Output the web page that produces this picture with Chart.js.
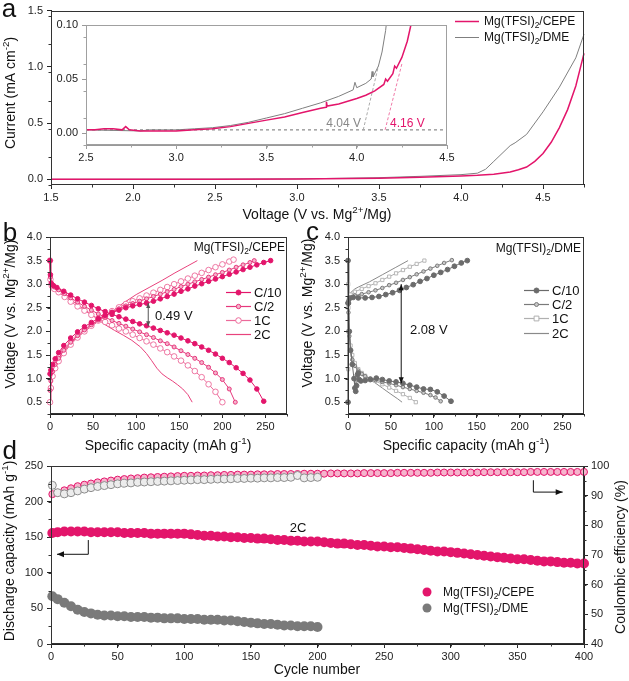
<!DOCTYPE html>
<html><head><meta charset="utf-8">
<script src="https://cdn.jsdelivr.net/npm/chart.js@4.4.1/dist/chart.umd.min.js"></script>
<style>
html,body{margin:0;padding:0;background:#fff;}
#wrap{position:relative;width:629px;height:681px;overflow:hidden;background:#fff;}
canvas{position:absolute;left:0;top:0;}
</style></head><body><div id="wrap">
<canvas id="ca" width="629" height="681"></canvas>
<canvas id="ci" width="629" height="681"></canvas>
<canvas id="cb" width="629" height="681"></canvas>
<canvas id="cc" width="629" height="681"></canvas>
<canvas id="cd" width="629" height="681"></canvas>
</div>
<script>
// ---------------- DATA ----------------
// Panel a: LSV curves [voltage, current]
const aCEPE = [[1.5,0.0],[2.0,0.001],[2.5,0.002],[3.0,0.003],[3.5,0.011],[3.75,0.019],[4.0,0.03],[4.1,0.036],[4.2,0.046],[4.3,0.065],[4.35,0.085],[4.4,0.11],[4.45,0.16],[4.5,0.23],[4.55,0.33],[4.6,0.46],[4.65,0.62],[4.7,0.83],[4.75,1.12]];
const aDME  = [[1.5,0.0],[2.0,0.001],[2.5,0.002],[3.0,0.004],[3.5,0.015],[3.75,0.027],[4.0,0.042],[4.1,0.055],[4.15,0.09],[4.2,0.16],[4.25,0.23],[4.3,0.3],[4.33,0.325],[4.4,0.4],[4.5,0.6],[4.6,0.82],[4.7,1.08],[4.75,1.29]];
// Panel a inset
const insCEPE = [[2.5,0.003],[2.55,0.003],[2.6,0.004],[2.65,0.004],[2.7,0.003],[2.72,0.006],[2.74,0.003],[2.8,0.002],[2.9,0.002],[3.0,0.002],[3.1,0.003],[3.2,0.004],[3.3,0.006],[3.4,0.009],[3.5,0.012],[3.6,0.015],[3.7,0.019],[3.8,0.023],[3.83,0.024],[3.832,0.029],[3.836,0.025],[3.9,0.027],[4.0,0.032],[4.05,0.035],[4.1,0.039],[4.15,0.045],[4.16,0.05],[4.17,0.048],[4.2,0.055],[4.21,0.062],[4.22,0.06],[4.25,0.07],[4.28,0.085],[4.3,0.1],[4.32,0.12]];
const insDME = [[2.5,0.003],[2.8,0.002],[2.85,0.003],[3.0,0.003],[3.1,0.004],[3.2,0.005],[3.3,0.007],[3.4,0.01],[3.5,0.014],[3.6,0.018],[3.7,0.023],[3.8,0.028],[3.9,0.034],[3.98,0.04],[3.99,0.047],[4.0,0.042],[4.05,0.046],[4.08,0.05],[4.085,0.057],[4.09,0.052],[4.12,0.062],[4.14,0.075],[4.16,0.095],[4.17,0.11]];
const insBase = [[2.5,0.003],[4.5,0.003]];
const insOnsetDME = [[4.036,0.003],[4.12,0.062]];
const insOnsetCEPE = [[4.157,0.003],[4.25,0.064]];
// Panel b: CEPE charge/discharge [capacity, voltage]
const bC10dis = [[0,3.5],[0.5,3.2],[1.5,3.02],[4,2.97],[8,2.93],[16,2.85],[24,2.77],[32,2.69],[40,2.62],[48,2.55],[56,2.48],[64,2.42],[72,2.36],[80,2.31],[88,2.26],[96,2.21],[104,2.16],[112,2.12],[120,2.07],[128,2.02],[136,1.97],[144,1.92],[152,1.86],[160,1.8],[168,1.74],[176,1.67],[184,1.6],[192,1.52],[200,1.43],[208,1.34],[216,1.23],[224,1.11],[232,0.97],[240,0.78],[248,0.52]];
const bC10cha = [[0,1.1],[1,1.18],[3,1.3],[6,1.42],[10,1.55],[16,1.7],[24,1.86],[32,1.99],[40,2.1],[48,2.19],[56,2.27],[64,2.34],[72,2.4],[80,2.45],[88,2.5],[96,2.54],[104,2.57],[112,2.6],[120,2.64],[128,2.69],[136,2.74],[144,2.79],[152,2.85],[160,2.9],[168,2.96],[176,3.01],[184,3.06],[192,3.11],[200,3.16],[208,3.21],[216,3.26],[224,3.31],[232,3.36],[240,3.41],[248,3.46],[256,3.5]];
const bC2dis = [[0,3.5],[0.5,3.15],[2,3.0],[5,2.94],[10,2.88],[17,2.8],[24,2.71],[32,2.62],[40,2.53],[48,2.45],[56,2.37],[64,2.3],[72,2.23],[80,2.17],[88,2.11],[96,2.05],[104,1.99],[112,1.93],[120,1.87],[128,1.8],[136,1.74],[144,1.67],[152,1.59],[160,1.51],[168,1.43],[176,1.34],[184,1.24],[192,1.12],[200,0.98],[208,0.78],[215,0.5]];
const bC2cha = [[0,0.75],[1,0.95],[3,1.15],[6,1.3],[10,1.43],[16,1.6],[24,1.77],[32,1.91],[40,2.03],[48,2.14],[56,2.24],[64,2.33],[72,2.41],[80,2.48],[88,2.54],[96,2.59],[104,2.64],[112,2.69],[120,2.74],[128,2.79],[136,2.84],[144,2.89],[152,2.95],[160,3.0],[168,3.05],[176,3.1],[184,3.15],[192,3.2],[200,3.25],[208,3.3],[216,3.36],[224,3.41],[232,3.46],[237,3.5]];
const b1Cdis = [[0,3.5],[0.5,3.1],[2,2.97],[5,2.9],[10,2.83],[17,2.73],[24,2.63],[32,2.53],[40,2.44],[48,2.35],[56,2.27],[64,2.2],[72,2.13],[80,2.06],[88,2.0],[96,1.93],[104,1.86],[112,1.79],[120,1.72],[128,1.64],[136,1.56],[144,1.47],[152,1.38],[160,1.28],[168,1.16],[176,1.03],[184,0.88],[192,0.72],[200,0.5]];
const b1Ccha = [[0,0.5],[1,0.8],[3,1.05],[6,1.22],[10,1.37],[16,1.54],[24,1.72],[32,1.87],[40,2.0],[48,2.12],[56,2.23],[64,2.33],[72,2.43],[80,2.51],[88,2.58],[96,2.64],[104,2.7],[112,2.76],[120,2.82],[128,2.88],[136,2.94],[144,3.0],[152,3.06],[160,3.12],[168,3.18],[176,3.24],[184,3.3],[192,3.36],[200,3.42],[208,3.48],[213,3.52]];
const b2Cdis = [[0,3.5],[1,3.05],[3,2.95],[8,2.88],[15,2.79],[25,2.66],[35,2.53],[45,2.4],[55,2.26],[65,2.13],[75,2.02],[85,1.92],[95,1.81],[105,1.67],[112,1.53],[118,1.38],[124,1.22],[130,1.1],[136,1.02],[142,0.95],[148,0.87],[154,0.78],[160,0.66],[165,0.5]];
const b2Ccha = [[0,0.55],[1,0.85],[3,1.1],[6,1.28],[10,1.42],[18,1.62],[28,1.82],[40,2.0],[55,2.2],[70,2.4],[85,2.6],[100,2.78],[115,2.93],[130,3.08],[145,3.24],[160,3.39],[171,3.5]];
// Panel c: DME charge/discharge
const cC10cha = [[0,0.5],[0,2.6],[2,2.7],[6,2.72],[12,2.71],[20,2.71],[28,2.72],[36,2.74],[44,2.78],[52,2.82],[60,2.87],[68,2.93],[76,2.99],[84,3.06],[92,3.12],[100,3.19],[108,3.25],[116,3.31],[124,3.38],[132,3.45],[139,3.5]];
const cC10dis = [[0,3.5],[0.5,2.6],[1.5,2.0],[3,1.6],[5,1.3],[7,1.0],[8,0.8],[9,0.73],[10,0.85],[11,1.08],[12,1.12],[13,0.98],[15,0.95],[20,0.96],[26,0.98],[33,1.01],[40,0.98],[48,0.95],[56,0.93],[64,0.9],[72,0.86],[80,0.82],[88,0.78],[96,0.77],[104,0.72],[112,0.63],[120,0.52]];
const cC2cha = [[0,0.5],[0.3,2.65],[3,2.72],[8,2.76],[16,2.79],[24,2.83],[32,2.87],[40,2.92],[48,2.98],[56,3.03],[64,3.09],[72,3.15],[80,3.21],[88,3.27],[96,3.33],[104,3.39],[112,3.45],[121,3.51]];
const cC2dis = [[0,3.5],[0.5,2.4],[1.5,1.9],[3,1.6],[5,1.4],[8,1.27],[12,1.17],[16,1.1],[20,1.05],[26,1.0],[32,0.97],[40,0.93],[48,0.9],[56,0.86],[64,0.82],[72,0.78],[80,0.74],[88,0.7],[96,0.65],[102,0.6],[108,0.52]];
const c1Ccha = [[0,0.5],[0.2,1.2],[0.4,2.0],[0.6,2.6],[3,2.78],[8,2.84],[16,2.9],[24,2.96],[32,3.02],[40,3.09],[48,3.16],[56,3.23],[64,3.3],[72,3.37],[80,3.43],[89,3.5]];
const c1Cdis = [[0,3.5],[0.2,3.0],[0.5,2.5],[1.5,2.0],[3,1.7],[5,1.5],[8,1.33],[12,1.2],[16,1.12],[20,1.06],[26,1.0],[32,0.95],[40,0.88],[48,0.81],[56,0.74],[64,0.67],[72,0.59],[79,0.5]];
const c2Ccha = [[0,0.5],[0.5,2.7],[3,2.82],[8,2.9],[12,2.94],[25,3.05],[40,3.2],[55,3.35],[70,3.5]];
const c2Cdis = [[0,3.5],[1,2.2],[3,1.7],[6,1.4],[10,1.2],[15,1.08],[20,1.02],[30,0.93],[40,0.8],[50,0.67],[58,0.57],[63,0.5]];
// Panel d: cycling
const cycles = [1,5,10,15,20,25,30,35,40,45,50,55,60,65,70,75,80,85,90,95,100,105,110,115,120,125,130,135,140,145,150,155,160,165,170,175,180,185,190,195,200,205,210,215,220,225,230,235,240,245,250,255,260,265,270,275,280,285,290,295,300,305,310,315,320,325,330,335,340,345,350,355,360,365,370,375,380,385,390,395,400];
const dCepeCap = [156,157,158,158,158,158,157,157,157,157, 157,156,156,156,156,155,155,155,155,155, 155,154,153,152,152,151,151,150,150,149, 149,148,148,147,146,146,145,145,144,144, 144,143,142,141,141,140,139,139,138,137, 137,136,136,135,134,133,132,131,130,130, 129,128,127,126,125,124,123,122,121,120, 119,119,118,117,116,116,115,114,114,113, 113];
const dCepeCE = [90.5,91.0,91.8,92.5,93.2,93.7,94.1,94.5,94.8,95.1, 95.4,95.6,95.8,95.9,96.1,96.2,96.3,96.4,96.5,96.6, 96.7,96.7,96.8,96.8,96.9,96.9,97.0,97.0,97.1,97.1, 97.1,97.2,97.2,97.2,97.3,97.3,97.3,97.3,97.4,97.4, 97.4,97.4,97.5,97.5,97.5,97.5,97.5,97.6,97.6,97.6, 97.6,97.6,97.7,97.7,97.7,97.7,97.7,97.7,97.8,97.8, 97.8,97.8,97.8,97.8,97.8,97.9,97.9,97.9,97.9,97.9, 97.9,97.9,98.0,98.0,98.0,98.0,98.0,98.0,98.0,98.0, 98.0];
const dDmeCap = [67,63,58,53,48,45,43,41,40,40, 39,39,38,38,38,37,37,36,36,36, 35,35,35,34,34,34,33,33,32,31, 30,29,28,28,27,26,26,25,25,25, 24];
const dDmeCE = [93.5,91.0,90.6,91.0,91.6,92.2,92.7,93.1,93.4,93.7, 94.0,94.2,94.3,94.5,94.6,94.7,94.8,94.9,95.0,95.1, 95.2,95.3,95.4,95.4,95.5,95.6,95.6,95.7,95.8,95.8, 95.9,95.9,96.0,96.0,96.1,96.1,96.2,96.8,96.0,96.1, 96.2];
// Tick labels
const aXTicks = [1.5,2.0,2.5,3.0,3.5,4.0,4.5];
const aYTicks = [0.0,0.5,1.0,1.5];
const insXTicks = [2.5,3.0,3.5,4.0,4.5];
const insYTicks = [0.00,0.05,0.10];
const bcXTicks = [0,50,100,150,200,250];
const bcYTicks = [0.5,1.0,1.5,2.0,2.5,3.0,3.5,4.0];
const dXTicks = [0,50,100,150,200,250,300,350,400];
const dYTicks = [0,50,100,150,200,250];
const dY2Ticks = [40,50,60,70,80,90,100];
const rateLabels = ['C/10','C/2','1C','2C'];
const seriesNames = ['Mg(TFSI)_2/CEPE','Mg(TFSI)_2/DME'];

// ---------------- HELPERS ----------------
const FONT = '"Liberation Sans", Arial, Helvetica, sans-serif';
const W = 629, H = 681, AXW = 42, AXH = 22;
const PINK = '#e3156b', GRAY = '#7f7f7f';
const P = arr => arr.map(p => ({x:p[0], y:p[1]}));
const Z = (xs, ys) => ys.map((y,i) => ({x:xs[i], y}));

function parseRich(str){
  const segs=[]; let i=0, buf='';
  while(i<str.length){
    const c=str[i];
    if(c==='^'||c==='_'){
      if(buf){segs.push({t:buf,m:0});buf='';}
      const mode = c==='^'?1:-1; i++;
      let t='';
      if(str[i]==='{'){ i++; while(i<str.length && str[i]!=='}'){t+=str[i];i++;} i++; }
      else { t=str[i]; i++; }
      segs.push({t,m:mode});
    } else { buf+=c; i++; }
  }
  if(buf) segs.push({t:buf,m:0});
  return segs;
}
function drawRich(ctx, str, x, y, o){
  o=o||{};
  const size=o.size||12, color=o.color||'#111', align=o.align||'left', rot=o.rot||0;
  const segs=parseRich(str);
  ctx.save();
  ctx.translate(x,y); if(rot) ctx.rotate(rot);
  ctx.fillStyle=color; ctx.textBaseline='alphabetic';
  let w=0;
  segs.forEach(s=>{ s.fs = s.m? size*0.7: size; ctx.font=`${s.fs}px ${FONT}`; s.w=ctx.measureText(s.t).width; w+=s.w;});
  let cx = align==='center'? -w/2 : align==='right'? -w : 0;
  const base = size*0.36;
  segs.forEach(s=>{ ctx.font=`${s.fs}px ${FONT}`; const dy = s.m===1? -size*0.4 : s.m===-1? size*0.22 : 0; ctx.fillText(s.t, cx, base+dy); cx+=s.w;});
  ctx.restore();
}
function marker(ctx, x, y, pt){
  ctx.save(); ctx.lineWidth=pt.bw||1; ctx.beginPath();
  if(pt.style==='rect') ctx.rect(x-pt.r,y-pt.r,2*pt.r,2*pt.r); else ctx.arc(x,y,pt.r,0,Math.PI*2);
  if(pt.fill){ctx.fillStyle=pt.fill; ctx.fill();}
  if(pt.stroke){ctx.strokeStyle=pt.stroke; ctx.stroke();}
  ctx.restore();
}
function head(ctx, x, y, ang, size){
  const c=Math.cos(ang), s=Math.sin(ang), w=size*0.42;
  ctx.beginPath(); ctx.moveTo(x,y);
  ctx.lineTo(x-size*c+w*s, y-size*s-w*c);
  ctx.lineTo(x-size*c-w*s, y-size*s+w*c);
  ctx.closePath(); ctx.fill();
}
const deco = {
  id:'deco',
  afterDraw(chart, args, o){
    const ctx=chart.ctx, a=chart.chartArea, sc=chart.scales;
    ctx.save();
    ctx.strokeStyle=o.frame||'#222'; ctx.lineWidth=1;
    ctx.strokeRect(Math.round(a.left)+0.5, Math.round(a.top)+0.5, Math.round(a.right-a.left)-1, Math.round(a.bottom-a.top)-1);
    (o.minor||[]).forEach(m=>{
      const s=sc[m.axis]; const n=Math.round((s.max-s.min)/m.step);
      ctx.beginPath(); ctx.strokeStyle=o.frame||'#222';
      for(let k=0;k<=n;k++){
        const v=s.min+k*m.step; const p=Math.round(s.getPixelForValue(v))+0.5;
        if(m.axis==='x'){ ctx.moveTo(p,a.bottom); ctx.lineTo(p,a.bottom+2.5); }
        else if(s.position==='right'){ ctx.moveTo(a.right,p); ctx.lineTo(a.right+2.5,p); }
        else { ctx.moveTo(a.left,p); ctx.lineTo(a.left-2.5,p); }
      }
      ctx.stroke();
    });
    (o.legend||[]).forEach(l=>{
      ctx.save(); ctx.strokeStyle=l.color; ctx.lineWidth=l.lw||1;
      ctx.beginPath(); ctx.moveTo(l.x1,l.y+0.5); ctx.lineTo(l.x2,l.y+0.5); ctx.stroke(); ctx.restore();
      if(l.pt) marker(ctx,(l.x1+l.x2)/2,l.y+0.5,l.pt);
    });
    (o.arrows||[]).forEach(ar=>{
      const ys=sc[ar.yAxis||'y'];
      const pts=ar.pts.map(p=>[sc.x.getPixelForValue(p[0]), ys.getPixelForValue(p[1])]);
      ctx.save(); ctx.strokeStyle=ar.color; ctx.fillStyle=ar.color; ctx.lineWidth=1;
      ctx.beginPath(); pts.forEach((p,i)=> i?ctx.lineTo(p[0],p[1]):ctx.moveTo(p[0],p[1])); ctx.stroke();
      const n=pts.length;
      if(ar.head==='end'||ar.head==='both'){ const p=pts[n-1], q=pts[n-2]; head(ctx,p[0],p[1],Math.atan2(p[1]-q[1],p[0]-q[0]),ar.size||6); }
      if(ar.head==='both'){ const p=pts[0], q=pts[1]; head(ctx,p[0],p[1],Math.atan2(p[1]-q[1],p[0]-q[0]),ar.size||6); }
      ctx.restore();
    });
    (o.dots||[]).forEach(d=>marker(ctx,d.x,d.y,d.pt));
    (o.texts||[]).forEach(t=>drawRich(ctx,t.s,t.x,t.y,t));
    ctx.restore();
  }
};
function axis(o){
  return {
    type:'linear', position:o.pos, min:o.min, max:o.max,
    afterFit(s){ if(s.isHorizontal()) s.height=AXH; else s.width=AXW; },
    afterBuildTicks(s){ s.ticks = o.ticks.map(v=>({value:v})); },
    grid:{drawOnChartArea:false, drawTicks:true, tickLength:4, color:o.color||'#222', lineWidth:1},
    border:{display:true, color:o.color||'#222', width:1},
    ticks:{callback:v=>o.fmt(v), font:{family:FONT,size:11}, color:'#222', padding:o.pad??3, maxRotation:0, autoSkip:false},
    title:{display:false}
  };
}
function mk(id, box, datasets, scales, decoOpts){
  const hasRight = Object.values(scales).some(s=>s.position==='right');
  return new Chart(document.getElementById(id), {
    type:'line',
    data:{datasets},
    options:{
      responsive:false, animation:false, devicePixelRatio:1,
      layout:{padding:{left:box[0]-AXW, top:box[1], right:W-box[2]-(hasRight?AXW:0), bottom:H-box[3]-AXH}},
      plugins:{legend:{display:false}, tooltip:{enabled:false}, deco:decoOpts},
      scales
    },
    plugins:[deco]
  });
}
function ln(data, color, o){
  return Object.assign({data:P(data), borderColor:color, backgroundColor:color, borderWidth:1, pointRadius:0, tension:0, fill:false, clip:4}, o||{});
}
const f1 = v=>v.toFixed(1), f2=v=>v.toFixed(2), f0=v=>String(v);
const yVolt = 'Voltage (V vs. Mg^{2+}/Mg)';

// ---------------- PANEL A ----------------
mk('ca',[51,7,584,185],[
  ln(aCEPE, PINK, {borderWidth:1.5, order:0}),
  ln(aDME, GRAY, {borderWidth:1, order:1})
],{
  x:axis({pos:'bottom',min:1.5,max:4.75,ticks:aXTicks,fmt:f1,pad:2}),
  y:axis({pos:'left',min:-0.05,max:1.5,ticks:aYTicks,fmt:f1,pad:4})
},{
  frame:'#333',
  minor:[{axis:'x',step:0.25},{axis:'y',step:0.25}],
  legend:[{x1:455,x2:479,y:21,color:PINK,lw:1.5},{x1:455,x2:479,y:37,color:GRAY,lw:1}],
  texts:[
    {s:'a',x:9,y:7.5,size:26,align:'center'},
    {s:'Current (mA cm^{-2})',x:10,y:93,size:14,align:'center',rot:-Math.PI/2},
    {s:yVolt,x:317,y:214,size:14,align:'center'},
    {s:seriesNames[0],x:484,y:21,size:12},
    {s:seriesNames[1],x:484,y:37,size:12}
  ]
});
// inset
mk('ci',[86,25,447,145],[
  ln(insBase,'#888',{borderDash:[3,3],borderWidth:1.2,order:5}),
  ln(insOnsetDME,'#aaa',{borderDash:[3,2],order:4}),
  ln(insOnsetCEPE,'#f07aa8',{borderDash:[3,2],order:3}),
  ln(insCEPE, PINK, {borderWidth:1.5, order:0, clip:0}),
  ln(insDME, GRAY, {borderWidth:1, order:1, clip:0})
],{
  x:axis({pos:'bottom',min:2.5,max:4.5,ticks:insXTicks,fmt:f1,color:'#999',pad:2}),
  y:axis({pos:'left',min:-0.011,max:0.1,ticks:insYTicks,fmt:f2,color:'#999',pad:4})
},{
  frame:'#a0a0a0',
  minor:[{axis:'x',step:0.25},{axis:'y',step:0.025}],
  texts:[
    {s:'4.04 V',x:361,y:123,size:12,align:'right',color:'#888'},
    {s:'4.16 V',x:390,y:123,size:12,color:PINK}
  ]
});

// ---------------- PANEL B ----------------
const bCol = ['#e3156b','#e6387c','#ec6a9a','#e8427c'];
const bPt = [
  {pointRadius:2.3,pointBackgroundColor:bCol[0],pointBorderColor:bCol[0],pointBorderWidth:1},
  {pointRadius:2,pointBackgroundColor:'#f5b3cc',pointBorderColor:bCol[1],pointBorderWidth:1},
  {pointRadius:2.8,pointBackgroundColor:'#ffffff',pointBorderColor:bCol[2],pointBorderWidth:0.9},
  {}
];
mk('cb',[50,237,287,414],[
  ln(bC10dis,bCol[0],Object.assign({order:0},bPt[0])),
  ln(bC10cha,bCol[0],Object.assign({order:0},bPt[0])),
  ln(bC2dis,bCol[1],Object.assign({order:1},bPt[1])),
  ln(bC2cha,bCol[1],Object.assign({order:1},bPt[1])),
  ln(b1Cdis,bCol[2],Object.assign({order:2},bPt[2])),
  ln(b1Ccha,bCol[2],Object.assign({order:2},bPt[2])),
  ln(b2Cdis,bCol[3],{order:3}),
  ln(b2Ccha,bCol[3],{order:3})
],{
  x:axis({pos:'bottom',min:0,max:275,ticks:bcXTicks,fmt:f0,pad:2}),
  y:axis({pos:'left',min:0.25,max:4.0,ticks:bcYTicks,fmt:f1,pad:4})
},{
  frame:'#333',
  minor:[{axis:'x',step:25},{axis:'y',step:0.25}],
  legend:[
    {x1:226,x2:251,y:292,color:bCol[0],lw:1.2,pt:{r:2.5,fill:bCol[0],stroke:bCol[0]}},
    {x1:226,x2:251,y:306,color:bCol[1],lw:1.2,pt:{r:2.2,fill:'#f5b3cc',stroke:bCol[1]}},
    {x1:226,x2:251,y:320,color:bCol[2],lw:1.2,pt:{r:2.8,fill:'#fff',stroke:bCol[2]}},
    {x1:226,x2:251,y:334,color:bCol[3],lw:1.2}
  ],
  arrows:[{pts:[[114,2.6],[114,2.11]],head:'both',color:'#555',size:5}],
  texts:[
    {s:'b',x:10,y:232,size:26,align:'center'},
    {s:yVolt,x:10,y:314,size:14,align:'center',rot:-Math.PI/2},
    {s:'Specific capacity (mAh g^{-1})',x:168,y:445,size:14,align:'center'},
    {s:seriesNames[0],x:285,y:247,size:12,align:'right'},
    {s:'0.49 V',x:155,y:315,size:13},
    {s:rateLabels[0],x:254,y:292,size:13},
    {s:rateLabels[1],x:254,y:306,size:13},
    {s:rateLabels[2],x:254,y:320,size:13},
    {s:rateLabels[3],x:254,y:334,size:13}
  ]
});

// ---------------- PANEL C ----------------
const cCol = ['#6b6b6b','#7a7a7a','#b0b0b0','#8a8a8a'];
const cPt = [
  {pointRadius:2.4,pointBackgroundColor:cCol[0],pointBorderColor:cCol[0],pointBorderWidth:1},
  {pointRadius:1.8,pointBackgroundColor:'#c8c8c8',pointBorderColor:cCol[1],pointBorderWidth:1},
  {pointRadius:2.3,pointStyle:'rect',pointBackgroundColor:'#ffffff',pointBorderColor:cCol[2],pointBorderWidth:0.9},
  {}
];
mk('cc',[348,237,584,414],[
  ln(cC10dis,cCol[0],Object.assign({order:0},cPt[0])),
  ln(cC10cha,cCol[0],Object.assign({order:0},cPt[0])),
  ln(cC2dis,cCol[1],Object.assign({order:1},cPt[1])),
  ln(cC2cha,cCol[1],Object.assign({order:1},cPt[1])),
  ln(c1Cdis,cCol[2],Object.assign({order:2},cPt[2])),
  ln(c1Ccha,cCol[2],Object.assign({order:2},cPt[2])),
  ln(c2Cdis,cCol[3],{order:3}),
  ln(c2Ccha,cCol[3],{order:3})
],{
  x:axis({pos:'bottom',min:0,max:275,ticks:bcXTicks,fmt:f0,pad:2}),
  y:axis({pos:'left',min:0.25,max:4.0,ticks:bcYTicks,fmt:f1,pad:4})
},{
  frame:'#333',
  minor:[{axis:'x',step:25},{axis:'y',step:0.25}],
  legend:[
    {x1:524,x2:549,y:290,color:cCol[0],lw:1.2,pt:{r:2.5,fill:cCol[0],stroke:cCol[0]}},
    {x1:524,x2:549,y:304,color:cCol[1],lw:1.2,pt:{r:2,fill:'#c8c8c8',stroke:cCol[1]}},
    {x1:524,x2:549,y:318,color:cCol[2],lw:1.2,pt:{r:2.4,style:'rect',fill:'#fff',stroke:cCol[2]}},
    {x1:524,x2:549,y:333,color:cCol[3],lw:1.2}
  ],
  arrows:[{pts:[[62,3.0],[62,0.9]],head:'both',color:'#111',size:6}],
  texts:[
    {s:'c',x:312.5,y:230.7,size:26,align:'center'},
    {s:yVolt,x:307,y:313,size:14,align:'center',rot:-Math.PI/2},
    {s:'Specific capacity (mAh g^{-1})',x:466,y:445,size:14,align:'center'},
    {s:seriesNames[1],x:581,y:248,size:12,align:'right'},
    {s:'2.08 V',x:410,y:329,size:13},
    {s:rateLabels[0],x:552,y:290,size:13},
    {s:rateLabels[1],x:552,y:304,size:13},
    {s:rateLabels[2],x:552,y:318,size:13},
    {s:rateLabels[3],x:552,y:333,size:13}
  ]
});

// ---------------- PANEL D ----------------
const dmeCycles = cycles.slice(0, dDmeCap.length);
const pt = (data, o) => Object.assign({data, showLine:false, borderWidth:0, pointRadius:4, clip:6}, o);
mk('cd',[51,466,584,644],[
  pt(Z(dmeCycles,dDmeCE),{yAxisID:'y2',pointRadius:4,pointBackgroundColor:'#ececec',pointBorderColor:'#8c8c8c',pointBorderWidth:1,order:1}),
  pt(Z(cycles,dCepeCE),{yAxisID:'y2',pointRadius:3.5,pointBackgroundColor:'#f6b4cd',pointBorderColor:PINK,pointBorderWidth:1,order:2}),
  pt(Z(cycles,dCepeCap),{yAxisID:'y',pointRadius:5,pointBackgroundColor:PINK,pointBorderColor:PINK,order:3}),
  pt(Z(dmeCycles,dDmeCap),{yAxisID:'y',pointRadius:5,pointBackgroundColor:'#7a7a7a',pointBorderColor:'#7a7a7a',order:3})
],{
  x:axis({pos:'bottom',min:0,max:400,ticks:dXTicks,fmt:f0,pad:2}),
  y:axis({pos:'left',min:0,max:250,ticks:dYTicks,fmt:f0,pad:4}),
  y2:axis({pos:'right',min:40,max:100,ticks:dY2Ticks,fmt:f0,pad:3})
},{
  frame:'#333',
  minor:[{axis:'x',step:25},{axis:'y',step:25},{axis:'y2',step:5}],
  arrows:[
    {pts:[[28,146],[28,126],[4.5,126]],head:'end',color:'#111',size:7},
    {pts:[[362,95.2],[362,91.2],[384,91.2]],yAxis:'y2',head:'end',color:'#111',size:7}
  ],
  dots:[{x:427,y:592,pt:{r:4.5,fill:PINK}},{x:427,y:608,pt:{r:4.5,fill:'#7a7a7a'}}],
  texts:[
    {s:'d',x:9.7,y:450,size:26,align:'center'},
    {s:'Discharge capacity (mAh g^{-1})',x:9,y:551,size:14,align:'center',rot:-Math.PI/2},
    {s:'Coulombic efficiency (%)',x:620,y:557,size:14,align:'center',rot:-Math.PI/2},
    {s:'Cycle number',x:317,y:669,size:14,align:'center'},
    {s:'2C',x:298,y:527,size:13,align:'center'},
    {s:seriesNames[0],x:443,y:592,size:12},
    {s:seriesNames[1],x:443,y:608,size:12}
  ]
});
</script></body></html>
